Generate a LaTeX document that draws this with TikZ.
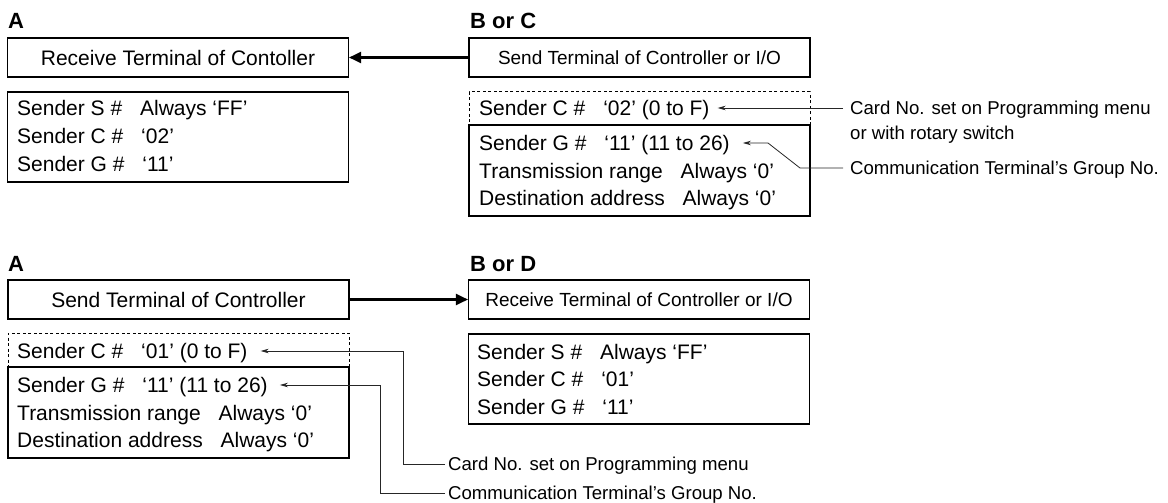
\documentclass[tikz,border=0pt]{standalone}
\usepackage{fontspec}
\setmainfont{Liberation Sans}
\usetikzlibrary{arrows.meta}

\newcommand{\gap}{\hspace{0.85em}}

\begin{document}
\begin{tikzpicture}[x=1pt,y=-1pt,
  termbox/.style={draw,line width=1.1pt,minimum width=341pt,minimum height=39pt,inner sep=0pt,font=\fontsize{21pt}{25pt}\selectfont},
  termnarrow/.style={termbox,font=\fontsize{19pt}{23pt}\selectfont},
  infobox/.style={draw,line width=1.1pt,minimum width=341pt,inner sep=0pt},
  optbox/.style={draw,dash pattern=on 3pt off 2.5pt,line width=1pt,minimum width=341pt,inner sep=0pt},
  row/.style={anchor=west,inner sep=0pt,text height=15pt,text depth=0pt,font=\fontsize{21pt}{25pt}\selectfont},
  head/.style={anchor=base west,inner sep=0pt,font=\bfseries\fontsize{22pt}{26pt}\selectfont},
  note/.style={anchor=west,inner ysep=0pt,text height=13.3pt,text depth=0pt,font=\fontsize{18.6pt}{22pt}\selectfont},
  link/.style={draw=black!85,line width=0.8pt,-{Stealth[length=8pt,width=4.5pt]}},
  flow/.style={line width=2.3pt,-{Triangle[length=12pt,width=11pt]}}]
  \useasboundingbox (0,0) rectangle (1168,503);
  % upper pair: B or C sends to A
  \node[head] (hA1) at (8,29) {A};
  \node[head] (hB1) at (470,29) {B or C};
  \node[termbox] (recvA1) at (178,57.5) {Receive Terminal of Contoller};
  \node[termnarrow] (sendB1) at (639.5,57.5) {Send Terminal of Controller or I/O};
  \draw[flow] (sendB1) -- (recvA1);
  \node[infobox,minimum height=90pt] (infoA1) at (178,137) {};
  \node[row] (sA1) at (17,108) {Sender S \#\gap Always ‘FF’};
  \node[row] (cA1) at (17,136) {Sender C \#\gap ‘02’};
  \node[row] (gA1) at (17,164) {Sender G \#\gap ‘11’};
  \node[optbox,minimum height=33pt] (optB1) at (639.5,108.5) {};
  \node[infobox,minimum height=91pt] (infoB1) at (639.5,170.5) {};
  \node[row] (cB1) at (479,108) {Sender C \#\gap ‘02’ (0 to F)};
  \node[row] (gB1) at (479,143) {Sender G \#\gap ‘11’ (11 to 26)};
  \node[row] (tB1) at (479,171) {Transmission range\gap Always ‘0’};
  \node[row] (dB1) at (479,198) {Destination address\gap Always ‘0’};
  \node[note,inner xsep=7pt] (cardB1) at (843,108) {Card No. set on Programming menu};
  \node[note,inner xsep=7pt] (rotB1) at (843,133) {or with rotary switch};
  \node[note,inner xsep=7pt] (grpB1) at (843,168) {Communication Terminal’s Group No.};
  \draw[link] (cardB1.west) -- ([xshift=8pt]cB1.east);
  \draw[link] (grpB1.west) -- (800,168) -- (768,143) -- ([xshift=13pt]gB1.east);
  % lower pair: A sends to B or D
  \node[head] (hA2) at (8,271) {A};
  \node[head] (hB2) at (470,271) {B or D};
  \node[termbox] (sendA2) at (178.5,299.5) {Send Terminal of Controller};
  \node[termnarrow] (recvB2) at (639,299.5) {Receive Terminal of Controller or I/O};
  \draw[flow] (sendA2) -- (recvB2);
  \node[optbox,minimum height=34pt] (optA2) at (178.5,350) {};
  \node[infobox,minimum height=91pt] (infoA2) at (178.5,412.5) {};
  \node[row] (cA2) at (17,351) {Sender C \#\gap ‘01’ (0 to F)};
  \node[row] (gA2) at (17,385) {Sender G \#\gap ‘11’ (11 to 26)};
  \node[row] (tA2) at (17,413) {Transmission range\gap Always ‘0’};
  \node[row] (dA2) at (17,440) {Destination address\gap Always ‘0’};
  \node[infobox,minimum height=90pt] (infoB2) at (639,379) {};
  \node[row] (sB2) at (477,352) {Sender S \#\gap Always ‘FF’};
  \node[row] (cB2) at (477,379) {Sender C \#\gap ‘01’};
  \node[row] (gB2) at (477,407) {Sender G \#\gap ‘11’};
  \node[note,inner xsep=3pt] (cardA2) at (445,464) {Card No. set on Programming menu};
  \node[note,inner xsep=3pt] (grpA2) at (445,493) {Communication Terminal’s Group No.};
  \draw[link] (cardA2.west) -- (403,464) -- (403,351) -- ([xshift=13pt]cA2.east);
  \draw[link] (grpA2.west) -- (380,493) -- (380,385) -- ([xshift=12pt]gA2.east);
\end{tikzpicture}
\end{document}
